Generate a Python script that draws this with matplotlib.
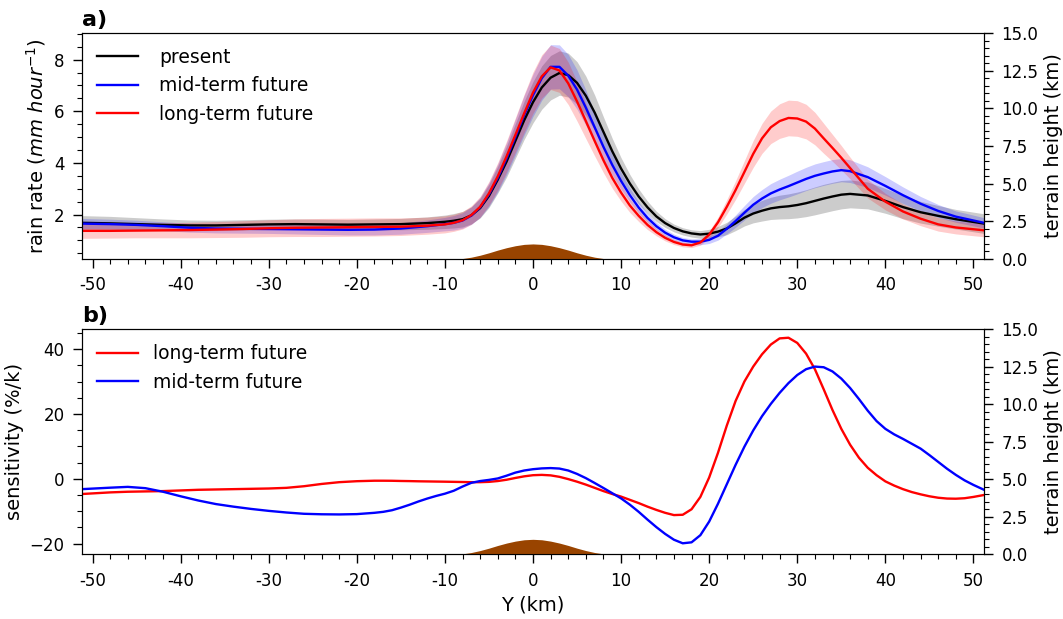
import matplotlib
matplotlib.use("Agg")
import matplotlib.pyplot as plt
from matplotlib.ticker import MultipleLocator

# ---------------- data ----------------
# panel a grid (km)
xa = [-51.2, -48, -45, -42, -39, -36, -33, -30, -27, -24, -21, -18, -15, -12,
      -10, -9, -8, -7, -6, -5, -4, -3, -2, -1,
      0, 1, 2, 3, 4, 5, 6, 7, 8, 9,
      10, 11, 12, 13, 14, 15, 16, 17, 18, 19,
      20, 21, 22, 23, 24, 25, 26, 27, 28, 29,
      30, 31, 32, 33, 34, 35, 36,
      38, 40, 42, 44, 46, 48, 51.2]

present_mean = [1.68, 1.66, 1.63, 1.60, 1.58, 1.58, 1.60, 1.62, 1.63, 1.62, 1.61, 1.62, 1.63, 1.67,
                1.72, 1.76, 1.82, 1.97, 2.25, 2.72, 3.35, 4.05, 4.85, 5.65,
                6.35, 6.92, 7.30, 7.48, 7.40, 7.10, 6.60, 5.95, 5.20, 4.45,
                3.78, 3.20, 2.70, 2.28, 1.93, 1.67, 1.48, 1.35, 1.27, 1.23,
                1.26, 1.34, 1.46, 1.66, 1.88, 2.04, 2.15, 2.24, 2.29, 2.32,
                2.37, 2.44, 2.53, 2.62, 2.70, 2.77, 2.80,
                2.74, 2.53, 2.29, 2.09, 1.95, 1.82, 1.65]
present_spread = [0.28, 0.27, 0.25, 0.23, 0.21, 0.20, 0.20, 0.20, 0.20, 0.20, 0.20, 0.21, 0.22, 0.24,
                  0.26, 0.28, 0.30, 0.33, 0.38, 0.45, 0.52, 0.60, 0.67, 0.74,
                  0.80, 0.84, 0.86, 0.86, 0.85, 0.82, 0.76, 0.68, 0.58, 0.50,
                  0.42, 0.35, 0.29, 0.24, 0.20, 0.17, 0.15, 0.14, 0.14, 0.15,
                  0.17, 0.20, 0.24, 0.28, 0.32, 0.36, 0.40, 0.43, 0.46, 0.48,
                  0.50, 0.52, 0.54, 0.55, 0.55, 0.55, 0.54,
                  0.52, 0.48, 0.45, 0.42, 0.40, 0.38, 0.38]

mid_mean = [1.65, 1.63, 1.60, 1.55, 1.49, 1.46, 1.45, 1.44, 1.43, 1.42, 1.41, 1.42, 1.46, 1.55,
            1.63, 1.68, 1.77, 1.96, 2.28, 2.78, 3.42, 4.17, 5.00, 5.85,
            6.62, 7.28, 7.72, 7.72, 7.38, 6.84, 6.14, 5.38, 4.62, 3.92,
            3.30, 2.75, 2.27, 1.87, 1.55, 1.30, 1.12, 1.00, 0.95, 0.95,
            1.02, 1.18, 1.45, 1.75, 2.07, 2.38, 2.62, 2.82, 2.97, 3.10,
            3.24, 3.38, 3.50, 3.59, 3.67, 3.72, 3.68,
            3.45, 3.11, 2.75, 2.42, 2.14, 1.92, 1.68]
mid_spread = [0.20, 0.19, 0.18, 0.17, 0.17, 0.17, 0.17, 0.17, 0.18, 0.19, 0.20, 0.21, 0.22, 0.24,
              0.26, 0.28, 0.30, 0.34, 0.39, 0.46, 0.54, 0.62, 0.70, 0.77,
              0.82, 0.85, 0.86, 0.85, 0.82, 0.76, 0.68, 0.58, 0.48, 0.40,
              0.33, 0.27, 0.22, 0.18, 0.15, 0.13, 0.12, 0.11, 0.11, 0.12,
              0.14, 0.17, 0.20, 0.24, 0.28, 0.32, 0.35, 0.38, 0.40, 0.42,
              0.44, 0.45, 0.46, 0.46, 0.46, 0.45, 0.44,
              0.40, 0.36, 0.32, 0.28, 0.25, 0.22, 0.20]

long_mean = [1.37, 1.37, 1.38, 1.39, 1.40, 1.42, 1.44, 1.47, 1.49, 1.50, 1.51, 1.52, 1.53, 1.57,
             1.62, 1.68, 1.78, 1.98, 2.30, 2.82, 3.48, 4.25, 5.08, 5.92,
             6.72, 7.35, 7.70, 7.58, 7.08, 6.38, 5.62, 4.85, 4.10, 3.42,
             2.85, 2.35, 1.95, 1.60, 1.32, 1.10, 0.94, 0.84, 0.81, 0.92,
             1.22, 1.70, 2.30, 2.95, 3.65, 4.35, 4.95, 5.38, 5.62, 5.74,
             5.72, 5.60, 5.33, 4.95, 4.58, 4.20, 3.80,
             3.00, 2.50, 2.12, 1.84, 1.62, 1.50, 1.39]
long_spread = [0.29, 0.28, 0.28, 0.29, 0.30, 0.31, 0.32, 0.33, 0.34, 0.35, 0.35, 0.35, 0.34, 0.33,
               0.33, 0.33, 0.34, 0.36, 0.40, 0.46, 0.53, 0.60, 0.67, 0.74,
               0.80, 0.84, 0.86, 0.85, 0.82, 0.76, 0.68, 0.58, 0.48, 0.40,
               0.33, 0.27, 0.22, 0.18, 0.14, 0.12, 0.10, 0.09, 0.09, 0.10,
               0.14, 0.20, 0.28, 0.36, 0.44, 0.52, 0.58, 0.63, 0.67, 0.69,
               0.69, 0.67, 0.63, 0.58, 0.52, 0.47, 0.42,
               0.36, 0.32, 0.29, 0.27, 0.26, 0.25, 0.25]

# terrain (km)
xt = [-9, -8, -7, -6, -5, -4, -3, -2, -1, 0, 1, 2, 3, 4, 5, 6, 7, 8, 9]
ht = [0.0, 0.03, 0.12, 0.25, 0.41, 0.59, 0.75, 0.88, 0.97, 1.0,
      0.97, 0.88, 0.75, 0.59, 0.41, 0.25, 0.12, 0.03, 0.0]

# panel b grid (km)
xb = [-51.2, -48, -46, -44, -42, -40, -38, -36, -34, -32, -30, -28, -26, -24, -22, -20, -18,
      -17, -16, -15, -14, -13, -12, -11,
      -10, -9, -8, -7, -6, -5, -4, -3, -2, -1,
      0, 1, 2, 3, 4, 5, 6, 7, 8, 9,
      10, 11, 12, 13, 14, 15, 16, 17, 18, 19,
      20, 21, 22, 23, 24, 25, 26, 27, 28, 29,
      30, 31, 32, 33, 34, 35, 36, 37, 38, 39,
      40, 41, 42, 43, 44, 45, 46, 47, 48, 49, 50,
      51.2]
sens_long = [-4.7, -4.2, -4.0, -3.9, -3.8, -3.6, -3.4, -3.3, -3.2, -3.1, -3.0, -2.8, -2.3, -1.6, -1.05, -0.75, -0.6,
             -0.6, -0.62, -0.68, -0.72, -0.78, -0.82, -0.86,
             -0.9, -0.95, -1.0, -1.05, -1.05, -0.95, -0.7, -0.3, 0.25, 0.75,
             1.1, 1.2, 1.05, 0.6, -0.1, -0.9, -1.8, -2.8, -3.8, -4.7,
             -5.5, -6.5, -7.5, -8.6, -9.6, -10.5, -11.2, -11.1, -9.4, -5.6,
             0.4, 8.0, 16.4, 24.0, 30.0, 34.6, 38.4, 41.4, 43.3, 43.5,
             41.9, 38.6, 33.8, 27.6, 21.2, 15.4, 10.5, 6.5, 3.4, 1.1,
             -0.8, -2.1, -3.2, -4.1, -4.8, -5.4, -5.85, -6.1, -6.15, -6.0, -5.6,
             -5.0]
sens_mid = [-3.2, -2.75, -2.5, -2.9, -4.0, -5.4, -6.7, -7.8, -8.6, -9.3, -9.9, -10.4, -10.8, -10.95, -11.0, -10.9, -10.5,
            -10.2, -9.7, -8.9, -8.0, -7.0, -6.1, -5.3,
            -4.6, -3.7, -2.4, -1.25, -0.7, -0.35, 0.1, 0.95, 1.9, 2.55,
            2.95, 3.2, 3.3, 3.15, 2.55, 1.5, 0.2, -1.3, -2.85, -4.45,
            -6.05, -8.0, -10.2, -12.6, -14.9, -17.0, -18.8, -19.9, -19.6, -17.4,
            -13.2, -7.7, -1.7, 4.3, 9.9, 14.9, 19.3, 23.1, 26.5, 29.5,
            32.0, 33.8, 34.6, 34.4, 33.1, 30.9, 28.0, 24.6, 21.0, 17.8,
            15.4, 13.7, 12.3, 10.8, 9.3, 7.3, 5.2, 3.1, 1.2, -0.5, -1.9,
            -3.4]

xtick_vals = [-50, -40, -30, -20, -10, 0, 10, 20, 30, 40, 50]
xtick_labels = [str(v) for v in xtick_vals]
terrain_ticks = [0.0, 2.5, 5.0, 7.5, 10.0, 12.5, 15.0]

# ---------------- figure ----------------
plt.rcParams['font.family'] = ['DejaVu Sans']
TICK = 12
LAB = 14
fig = plt.figure(figsize=(10.63, 6.19), dpi=100)
axa = fig.add_axes([0.0771, 0.5816, 0.8486, 0.3651])
axb = fig.add_axes([0.0771, 0.1045, 0.8486, 0.3635])

terrain_color = '#994400'


def style_axes(ax, ax2):
    ax.set_xlim(-51.2, 51.2)
    ax.set_xticks(xtick_vals, xtick_labels)
    ax.xaxis.set_minor_locator(MultipleLocator(2))
    for a in (ax, ax2):
        a.tick_params(which='major', length=6.5, width=1, labelsize=TICK, pad=6)
        a.tick_params(which='minor', length=3.5, width=0.8)
    ax2.set_ylim(0, 15)
    ax2.set_yticks(terrain_ticks, [f'{v:.1f}' for v in terrain_ticks])
    ax2.yaxis.set_minor_locator(MultipleLocator(0.5))
    ax2.set_ylabel('terrain height (km)', fontsize=LAB)
    ax2.fill_between(xt, 0, ht, color=terrain_color, lw=0)


# ---- panel a ----
series = [
    ('present', present_mean, present_spread, 'black'),
    ('mid-term future', mid_mean, mid_spread, 'blue'),
    ('long-term future', long_mean, long_spread, 'red'),
]
for name, m, s, c in series:
    lo = [a - b for a, b in zip(m, s)]
    hi = [a + b for a, b in zip(m, s)]
    axa.fill_between(xa, lo, hi, color=c, alpha=0.2, lw=0)
for name, m, s, c in series:
    axa.plot(xa, m, color=c, lw=1.7, label=name)
axa.set_ylim(0.28, 9.03)
axa.set_yticks([2, 4, 6, 8])
axa.yaxis.set_minor_locator(MultipleLocator(0.5))
axa.set_ylabel(r'rain rate ($mm\ hour^{-1}$)', fontsize=LAB)
axa.legend(loc='upper left', frameon=False, fontsize=13.5, handlelength=2.2,
           handletextpad=1.1, borderaxespad=0.4)
axa.set_title('a)', loc='left', fontsize=16, fontweight='bold', pad=5)
axa2 = axa.twinx()
style_axes(axa, axa2)

# ---- panel b ----
axb.plot(xb, sens_long, color='red', lw=1.7, label='long-term future')
axb.plot(xb, sens_mid, color='blue', lw=1.7, label='mid-term future')
axb.set_ylim(-23.3, 46.1)
axb.set_yticks([-20, 0, 20, 40])
axb.yaxis.set_minor_locator(MultipleLocator(5))
axb.set_ylabel('sensitivity (%/k)', fontsize=LAB)
axb.set_xlabel('Y (km)', fontsize=LAB)
axb.legend(loc='upper left', frameon=False, fontsize=13.5, handlelength=2.2,
           handletextpad=0.8, borderaxespad=0.4)
axb.set_title('b)', loc='left', fontsize=16, fontweight='bold', pad=5)
axb2 = axb.twinx()
style_axes(axb, axb2)

fig.savefig('out.png', dpi=100)
